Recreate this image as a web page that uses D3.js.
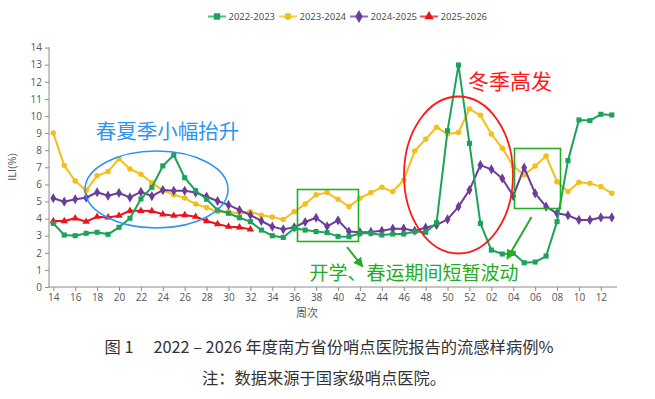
<!DOCTYPE html>
<html><head><meta charset="utf-8">
<script src="https://cdn.jsdelivr.net/npm/d3@7"></script>
<style>
html,body{margin:0;padding:0;background:#fff;}
svg{display:block;}
text{font-family:"Open Sans","Noto Sans CJK SC",sans-serif;}
.cjk{font-family:"Noto Sans CJK SC","Noto Sans",sans-serif;}
</style></head>
<body>
<svg id="chart" width="655" height="399"></svg>
<script>
// ---- data ----
const weeks = [14,15,16,17,18,19,20,21,22,23,24,25,26,27,28,29,30,31,32,33,34,35,36,37,38,39,40,41,42,43,44,45,46,47,48,49,50,51,52,1,2,3,4,5,6,7,8,9,10,11,12,13];
const xTickLabels = ["14","16","18","20","22","24","26","28","30","32","34","36","38","40","42","44","46","48","50","52","02","04","06","08","10","12"];
const yTickLabels = [0,1,2,3,4,5,6,7,8,9,10,11,12,13,14];
const seriesNames = ["2022-2023","2023-2024","2024-2025","2025-2026"];
const s2022 = [3.72,3.04,3.0,3.14,3.2,3.08,3.49,4.02,5.15,5.83,7.08,7.72,6.39,5.63,5.13,4.5,4.31,4.05,3.82,3.33,3.0,2.9,3.43,3.33,3.24,3.18,2.96,2.94,3.14,3.14,3.04,3.1,3.1,3.24,3.2,3.76,9.14,12.98,8.4,3.72,2.16,1.93,1.97,1.42,1.46,1.81,3.82,7.39,9.77,9.73,10.1,10.06];
const s2023 = [9.0,7.1,6.2,5.65,6.5,6.75,7.5,6.9,6.6,6.1,5.65,5.4,5.2,4.85,4.65,4.4,4.4,4.3,4.4,4.2,4.1,3.95,4.4,4.85,5.4,5.52,5.13,4.7,5.19,5.52,5.83,5.58,6.26,7.95,8.64,9.34,8.95,9.04,10.41,10.04,8.95,8.11,7.08,6.55,7.08,7.66,6.16,5.58,6.12,6.06,5.87,5.48];
const s2024 = [5.19,4.99,5.13,5.22,5.54,5.34,5.5,5.24,5.56,5.32,5.67,5.63,5.63,5.52,5.28,5.03,4.8,4.5,4.21,3.86,3.53,3.37,3.49,3.8,4.05,3.55,3.9,3.24,3.2,3.22,3.29,3.41,3.41,3.29,3.47,3.63,3.96,4.7,5.67,7.13,6.88,6.35,5.32,6.98,5.48,4.7,4.31,4.19,3.92,3.92,4.07,4.07];
const s2025 = [3.86,3.86,4.02,3.82,4.11,4.07,4.17,4.46,4.46,4.44,4.25,4.17,4.21,4.11,3.86,3.68,3.53,3.49,3.37];
const annotationTexts = ["春夏季小幅抬升","冬季高发","开学、春运期间短暂波动"];
const captionLines = ["图 1\u3000 2022 – 2026 年度南方省份哨点医院报告的流感样病例%","注：数据来源于国家级哨点医院。"];

// ---- drawing ----
const svg = d3.select("#chart");
const x = d3.scaleLinear().domain([0, weeks.length-1]).range([53.3, 611.8]);
const y = d3.scaleLinear().domain([0, 14]).range([287, 47.6]);
const axisColor = "#8c8c8c";
const labelColor = "#555";

// y axis
const yAxis = d3.axisLeft(y).tickValues(yTickLabels).tickSize(4).tickPadding(3).tickSizeOuter(0);
const gy = svg.append("g").attr("transform","translate(49,0)").call(yAxis);
gy.select(".domain").attr("stroke",axisColor).attr("d",`M0,${y(14)-0.5}V${y(0)}`);
gy.selectAll(".tick line").attr("stroke",axisColor);
gy.selectAll(".tick text").attr("fill",labelColor).style("font-size","10px");

// x axis
const tickIdx = xTickLabels.map(l => weeks.indexOf(+l));
const xAxis = d3.axisBottom(x).tickValues(tickIdx).tickFormat((d,i)=>xTickLabels[i]).tickSize(4).tickPadding(3).tickSizeOuter(0);
const gx = svg.append("g").attr("transform",`translate(0,${y(0)})`).call(xAxis);
gx.select(".domain").attr("stroke",axisColor).attr("d","M49,0H617");
gx.selectAll(".tick line").attr("stroke",axisColor);
gx.selectAll(".tick text").attr("fill",labelColor).style("font-size","10px");

svg.append("text").attr("transform","translate(16,167) rotate(-90)").attr("text-anchor","middle")
  .attr("fill",labelColor).style("font-size","11px").text("ILI(%)");
svg.append("text").attr("class","cjk").attr("x",307).attr("y",317).attr("text-anchor","middle")
  .attr("fill",labelColor).style("font-size","11px").text("周次");

const colors = ["#1ba35a","#f5bf1b","#6a3d9a","#e8141e"];
const symbols = [d3.symbolSquare, d3.symbolCircle, d3.symbolDiamond, d3.symbolTriangle];
const symSizes = [26, 24, 30, 24];
const allSeries = [s2022, s2023, s2024, s2025];

const line = d3.line().x((d,i)=>x(i)).y(d=>y(d));
const drawOrder = [1,2,3,0];
drawOrder.forEach(k=>{
  const data = allSeries[k];
  svg.append("path").datum(data).attr("d",line).attr("fill","none")
    .attr("stroke",colors[k]).attr("stroke-width",2).attr("stroke-linejoin","round");
  svg.append("g").selectAll("path").data(data).join("path")
    .attr("transform",(d,i)=>`translate(${x(i)},${y(d)})`)
    .attr("d",d3.symbol().type(symbols[k]).size(symSizes[k]))
    .attr("fill",colors[k]);
});

// legend
const legendX = [208, 279, 350, 420];
seriesNames.forEach((n,k)=>{
  const g = svg.append("g").attr("transform",`translate(${legendX[k]},16.5)`);
  g.append("line").attr("x1",0).attr("x2",18).attr("stroke",colors[k]).attr("stroke-width",2).attr("opacity",0.75);
  g.append("path").attr("transform","translate(9,0)").attr("d",d3.symbol().type(symbols[k]).size(symSizes[k]*1.6)).attr("fill",colors[k]);
  g.append("text").attr("x",20.5).attr("y",3.5).attr("fill","#444").style("font-size","9.5px").text(n);
});

// annotations
const blue = "#2b95f0", red = "#ff1a1a", green = "#22ad22";
svg.append("ellipse").attr("cx",156.5).attr("cy",189.5).attr("rx",71.5).attr("ry",38.5)
  .attr("fill","none").attr("stroke",blue).attr("stroke-width",1.5);
svg.append("text").attr("class","cjk").attr("x",167.5).attr("y",139).attr("text-anchor","middle")
  .attr("fill",blue).style("font-size","20.5px").text(annotationTexts[0]);

svg.append("ellipse").attr("cx",458.5).attr("cy",175).attr("rx",54.5).attr("ry",78.5)
  .attr("fill","none").attr("stroke",red).attr("stroke-width",1.8);
svg.append("text").attr("class","cjk").attr("x",510).attr("y",88.5).attr("text-anchor","middle")
  .attr("fill",red).style("font-size","21px").text(annotationTexts[1]);

svg.append("rect").attr("x",297.5).attr("y",189.5).attr("width",61).attr("height",52)
  .attr("fill","none").attr("stroke",green).attr("stroke-width",1.6);
svg.append("rect").attr("x",514.5).attr("y",148.5).attr("width",46).attr("height",60)
  .attr("fill","none").attr("stroke",green).attr("stroke-width",1.6);
svg.append("text").attr("class","cjk").attr("x",414).attr("y",280).attr("text-anchor","middle")
  .attr("fill",green).style("font-size","19px").text(annotationTexts[2]);

const defs = svg.append("defs");
defs.append("marker").attr("id","ah").attr("viewBox","0 0 10 10").attr("refX",8).attr("refY",5)
  .attr("markerWidth",5).attr("markerHeight",5).attr("orient","auto-start-reverse")
  .append("path").attr("d","M0,0L10,5L0,10z").attr("fill",green);
svg.append("line").attr("x1",347).attr("y1",247).attr("x2",362).attr("y2",266)
  .attr("stroke",green).attr("stroke-width",2).attr("marker-end","url(#ah)");
svg.append("line").attr("x1",531.5).attr("y1",217).attr("x2",507.5).attr("y2",258)
  .attr("stroke",green).attr("stroke-width",2).attr("marker-end","url(#ah)");

// caption
svg.append("text").attr("class","cjk").attr("x",329).attr("y",353).attr("text-anchor","middle")
  .attr("fill","#333").style("font-size","16.3px").style("white-space","pre").text(captionLines[0]);
svg.append("text").attr("class","cjk").attr("x",324).attr("y",384).attr("text-anchor","middle")
  .attr("fill","#333").style("font-size","16.3px").text(captionLines[1]);
</script>
</body></html>
